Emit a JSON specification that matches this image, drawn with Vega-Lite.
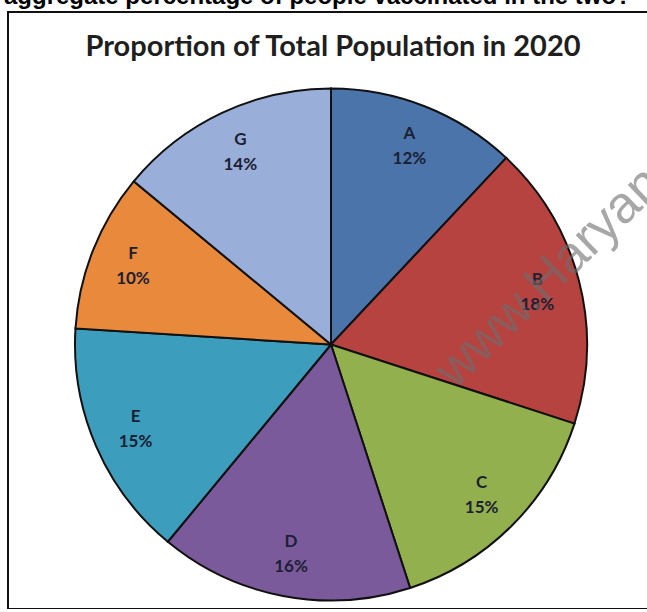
{
  "$schema": "https://vega.github.io/schema/vega-lite/v6.json",
  "width": 646,
  "height": 597,
  "autosize": "none",
  "padding": {"left": 8, "top": 12, "right": 0, "bottom": 0},
  "background": "white",
  "view": {"stroke": "#111111", "strokeWidth": 2},
  "datasets": {
    "pie": [
      {"cat": "A", "share": 0.12, "idx": 1},
      {"cat": "B", "share": 0.18, "idx": 2},
      {"cat": "C", "share": 0.15, "idx": 3},
      {"cat": "D", "share": 0.16, "idx": 4},
      {"cat": "E", "share": 0.15, "idx": 5},
      {"cat": "F", "share": 0.10, "idx": 6},
      {"cat": "G", "share": 0.14, "idx": 7}
    ],
    "notes": [
      {"note": "aggregate percentage of people vaccinated in the two?"}
    ],
    "heading": [
      {"head": "Proportion of Total Population in 2020"}
    ],
    "mark": [
      {"wm": "www.Haryana"}
    ]
  },
  "layer": [
    {
      "data": {"name": "pie"},
      "mark": {"type": "arc", "outerRadius": 256, "stroke": "#111111", "strokeWidth": 2, "yOffset": 34},
      "encoding": {
        "theta": {"field": "share", "type": "quantitative", "stack": true},
        "order": {"field": "idx", "type": "quantitative"},
        "color": {
          "field": "cat",
          "type": "nominal",
          "legend": null,
          "scale": {
            "domain": ["A", "B", "C", "D", "E", "F", "G"],
            "range": ["#4a74aa", "#b6433f", "#93b04f", "#7a5a9b", "#3d9dbc", "#e8893b", "#99aed9"]
          }
        }
      }
    },
    {
      "data": {"name": "pie"},
      "mark": {"type": "text", "radius": 213, "yOffset": 34, "dy": -12, "font": "Lato", "fontWeight": "bold", "fontSize": 17, "color": "#1c2033"},
      "encoding": {
        "theta": {"field": "share", "type": "quantitative", "stack": true},
        "order": {"field": "idx", "type": "quantitative"},
        "text": {"field": "cat", "type": "nominal"}
      }
    },
    {
      "data": {"name": "pie"},
      "mark": {"type": "text", "radius": 213, "yOffset": 34, "dy": 13, "font": "Lato", "fontWeight": "bold", "fontSize": 17, "color": "#1c2033"},
      "encoding": {
        "theta": {"field": "share", "type": "quantitative", "stack": true},
        "order": {"field": "idx", "type": "quantitative"},
        "text": {"field": "share", "type": "quantitative", "format": ".0%"}
      }
    },
    {
      "data": {"name": "heading"},
      "mark": {"type": "text", "align": "center", "baseline": "alphabetic", "font": "Lato", "fontWeight": "bold", "fontSize": 29, "color": "#1f1f1f"},
      "encoding": {
        "x": {"value": 325},
        "y": {"value": 44},
        "text": {"field": "head", "type": "nominal"}
      }
    },
    {
      "data": {"name": "notes"},
      "mark": {"type": "text", "align": "left", "baseline": "alphabetic", "font": "Liberation Sans", "fontWeight": "bold", "fontSize": 24, "color": "#000000"},
      "encoding": {
        "x": {"value": -4},
        "y": {"value": -8},
        "text": {"field": "note", "type": "nominal"}
      }
    },
    {
      "data": {"name": "mark"},
      "mark": {"type": "text", "align": "left", "baseline": "alphabetic", "angle": -44, "font": "Liberation Sans", "fontSize": 52, "color": "#6e6e6e", "opacity": 0.6},
      "encoding": {
        "x": {"value": 447},
        "y": {"value": 378},
        "text": {"field": "wm", "type": "nominal"}
      }
    }
  ]
}
